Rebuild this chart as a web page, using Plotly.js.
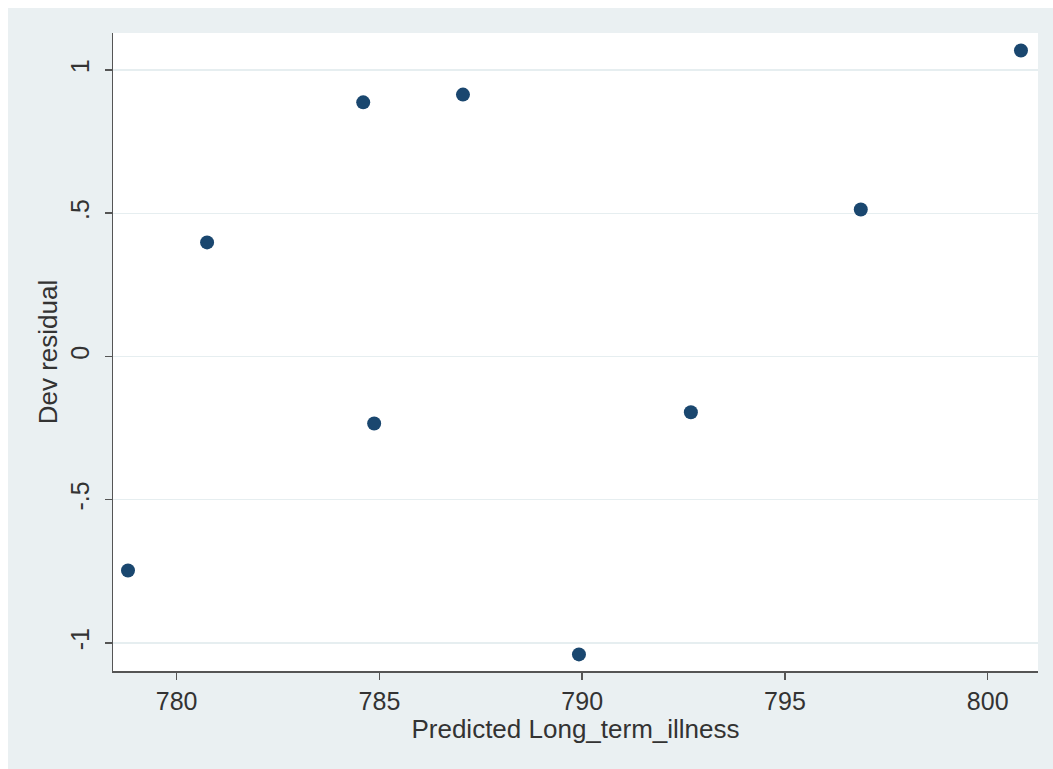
<!DOCTYPE html>
<html>
<head>
<meta charset="utf-8">
<script src="https://cdn.plot.ly/plotly-3.0.1.min.js"></script>
<style>
html, body { margin: 0; padding: 0; background: #eaf0f2; overflow: hidden; width: 1053px; height: 769px; }
#chart { position: absolute; left: 8px; top: 8px; width: 1045px; height: 761px; }
#topband { position: absolute; left: 0; top: 0; width: 1053px; height: 8px; background: #ffffff; }
#leftband { position: absolute; left: 0; top: 0; width: 8px; height: 769px; background: #ffffff; }
</style>
</head>
<body>
<div id="topband"></div>
<div id="leftband"></div>
<div id="chart"></div>
<script>
const predicted = [778.80, 780.75, 784.60, 784.87, 787.06, 789.92, 792.68, 796.87, 800.82];
const devResidual = [-0.747, 0.398, 0.887, -0.234, 0.914, -1.040, -0.195, 0.513, 1.068];
const xTicks = [780, 785, 790, 795, 800];
const yTicks = [-1, -0.5, 0, 0.5, 1];
const yTickLabels = ["-1", "-.5", "0", ".5", "1"];

const trace = {
  x: predicted,
  y: devResidual,
  type: 'scatter',
  mode: 'markers',
  marker: { color: '#1a476f', size: 14 },
  hoverinfo: 'x+y'
};

const layout = {
  width: 1045,
  height: 761,
  paper_bgcolor: '#eaf0f2',
  plot_bgcolor: '#ffffff',
  margin: { l: 105, r: 15, t: 25, b: 98 },
  font: { family: 'Liberation Sans, Arial, sans-serif', size: 25, color: '#333333' },
  showlegend: false,
  xaxis: {
    range: [778.43, 801.24],
    tickmode: 'array',
    tickvals: xTicks,
    ticktext: xTicks.map(String),
    ticks: 'outside',
    ticklen: 7,
    tickcolor: '#555555',
    tickwidth: 1.5,
    showline: true,
    linecolor: '#555555',
    linewidth: 1.5,
    showgrid: false,
    zeroline: false,
    title: { text: 'Predicted Long_term_illness', font: { size: 26, color: '#333333' }, standoff: 1 },
    tickfont: { size: 25, color: '#333333' }
  },
  yaxis: {
    range: [-1.098, 1.129],
    tickmode: 'array',
    tickvals: yTicks,
    ticktext: yTickLabels,
    tickangle: -90,
    ticks: 'outside',
    ticklen: 7,
    tickcolor: '#555555',
    tickwidth: 1.5,
    ticklabelstandoff: 6,
    showline: true,
    linecolor: '#555555',
    linewidth: 1.5,
    showgrid: true,
    gridcolor: '#e6eef0',
    gridwidth: 1.2,
    zeroline: false,
    title: { text: 'Dev residual', font: { size: 26, color: '#333333' }, standoff: 0 },
    tickfont: { size: 25, color: '#333333' }
  }
};

Plotly.newPlot('chart', [trace], layout, { displayModeBar: false, staticPlot: true });
</script>
</body>
</html>
